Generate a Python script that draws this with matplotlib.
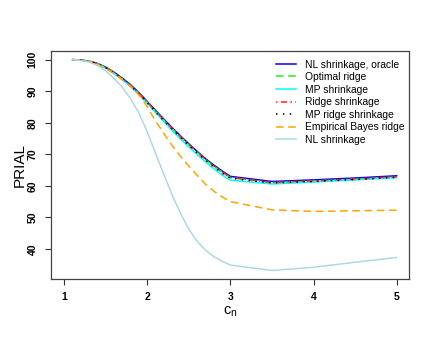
import matplotlib
matplotlib.use("Agg")
import matplotlib.pyplot as plt

plt.rcParams['font.family'] = ['Liberation Sans', 'DejaVu Sans']

c_n = [1.1, 1.2, 1.3, 1.4, 1.5, 1.6, 1.7, 1.8, 1.9, 2.0,
       2.1, 2.2, 2.3, 2.4, 2.5, 2.6, 2.7, 2.8, 2.9, 3.0,
       3.5, 4.0, 4.5, 5.0]

nl_oracle = [100, 99.9, 99.5, 98.8, 97.6, 96.0, 94.1, 92.0, 89.5, 86.7,
             83.9, 81.1, 78.4, 75.8, 73.3, 70.9, 68.6, 66.6, 64.7, 63.0,
             61.4, 61.9, 62.5, 63.2]
optimal_ridge = [100, 99.9, 99.5, 98.7, 97.5, 95.9, 93.9, 91.8, 89.3, 86.5,
                 83.6, 80.8, 78.1, 75.5, 73.0, 70.6, 68.3, 66.2, 64.3, 62.6,
                 61.0, 61.5, 62.1, 62.8]
mp_shrinkage = [100, 99.9, 99.4, 98.6, 97.3, 95.6, 93.6, 91.4, 88.9, 86.1,
                83.2, 80.3, 77.5, 74.8, 72.3, 69.9, 67.6, 65.4, 63.4, 61.8,
                60.6, 61.2, 61.9, 62.6]
ridge_shrinkage = [100, 99.9, 99.5, 98.7, 97.5, 95.9, 93.9, 91.8, 89.3, 86.5,
                   83.7, 80.9, 78.2, 75.6, 73.1, 70.7, 68.4, 66.3, 64.4, 62.7,
                   61.1, 61.6, 62.2, 62.9]
mp_ridge = [100, 99.9, 99.5, 98.7, 97.4, 95.8, 93.8, 91.6, 89.1, 86.3,
            83.4, 80.6, 77.9, 75.3, 72.8, 70.4, 68.1, 66.0, 64.0, 62.4,
            60.9, 61.4, 62.0, 62.7]
emp_bayes = [100, 99.9, 99.4, 98.5, 97.1, 95.6, 93.6, 91.5, 88.8, 85.0,
             80.5, 76.5, 72.7, 69.3, 66.2, 63.3, 60.5, 58.3, 56.5, 55.0,
             52.4, 51.9, 52.1, 52.3]
nl_shrink = [100, 99.7, 99.2, 98.2, 96.4, 94.0, 91.2, 87.5, 83.0, 77.0,
             70.2, 63.5, 57.0, 51.2, 46.2, 42.4, 39.6, 37.6, 36.1, 34.9,
             33.2, 34.2, 35.8, 37.3]

labels = ["NL shrinkage, oracle", "Optimal ridge", "MP shrinkage",
          "Ridge shrinkage", "MP ridge shrinkage", "Empirical Bayes ridge",
          "NL shrinkage"]
x_ticks = [1, 2, 3, 4, 5]
y_ticks = [40, 50, 60, 70, 80, 90, 100]

W, H = 436, 343
fig = plt.figure(figsize=(W / 100, H / 100), dpi=100)
ax = fig.add_axes([51 / W, 1 - 279 / H, (409.3 - 51) / W, (279 - 50.5) / H])

series = [nl_oracle, optimal_ridge, mp_shrinkage, ridge_shrinkage,
          mp_ridge, emp_bayes, nl_shrink]
styles = [
    dict(color='#0000ff', ls='-'),
    dict(color='#22ee22', ls=(0, (5, 3))),
    dict(color='#00ffff', ls='-'),
    dict(color='#ff2020', ls=(0, (1, 2.2, 4, 2.2))),
    dict(color='black', ls=(0, (1, 3.5))),
    dict(color='#ffa500', ls=(0, (5, 3))),
    dict(color='#add8e6', ls='-'),
]
for y, lab, st in zip(series, labels, styles):
    ax.plot(c_n, y, lw=1.1, label=lab, **st)

ax.set_xlim(0.84, 5.152)
ax.set_ylim(30.49, 102.9)
ax.set_xticks(x_ticks)
ax.set_yticks(y_ticks)
ax.set_xticklabels([str(v) for v in x_ticks], fontsize=7.5, fontweight='bold')
ax.set_yticklabels([str(v) for v in y_ticks], fontsize=7.5, fontweight='bold',
                   rotation=90, va='center')
ax.tick_params(axis='both', direction='out', length=4.5, width=0.8, color='#333333')
ax.tick_params(axis='x', pad=5)
ax.tick_params(axis='y', pad=5)
for s in ax.spines.values():
    s.set_color('#444444')
    s.set_linewidth(0.9)

ax.set_xlabel(r'$\mathregular{c_n}$', fontsize=10.5, labelpad=1.5)
ax.set_ylabel('PRIAL', fontsize=11, labelpad=1)

leg = ax.legend(loc='upper left', bbox_to_anchor=(276 / W, 1 - 59.5 / H),
                bbox_transform=fig.transFigure, frameon=False, fontsize=7.4,
                handlelength=1.95, handletextpad=0.85, labelspacing=0.25,
                borderpad=0, borderaxespad=0)

fig.savefig('out.png', dpi=100)
